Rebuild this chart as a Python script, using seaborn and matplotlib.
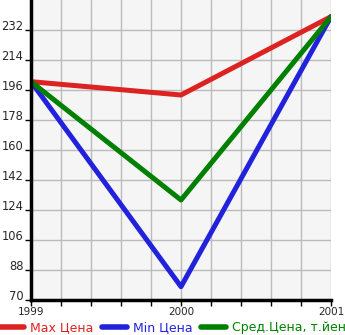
import matplotlib
matplotlib.use("Agg")
import matplotlib.pyplot as plt
import seaborn as sns
import pandas as pd
import numpy as np

years = [1999, 2000, 2001]
max_price = [201, 193, 240]
min_price = [201, 78, 240]
avg_price = [201, 130, 240]
series_names = ["Max Цена", "Min Цена", "Сред.Цена, т.йен"]
colors = ["#dd2222", "#2222dd", "#008000"]
y_ticks = [70, 88, 106, 124, 142, 160, 178, 196, 214, 232]
x_ticks = [1999, 2000, 2001]

sns.set_style("white")
plt.rcParams['font.family'] = ['DejaVu Sans']

rows = []
for name, vals in zip(series_names, [max_price, min_price, avg_price]):
    for x, v in zip(years, vals):
        rows.append({"year": x, "value": v, "series": name})
df = pd.DataFrame(rows)

fig = plt.figure(figsize=(3.45, 3.35), dpi=100)
ax = fig.add_axes([31/345, 35/335, 300/345, 300/335])
ax.set_facecolor("#f5f5f5")

sns.lineplot(data=df, x="year", y="value", hue="series", palette=colors,
             hue_order=series_names, linewidth=3.6, ax=ax, legend=False,
             solid_capstyle="round")

ax.set_xlim(1999, 2001)
ax.set_ylim(70, 250)
ax.set_xticks(np.arange(1999, 2001.01, 0.2), minor=True)
ax.set_xticks(x_ticks)
ax.set_xticklabels([str(x) for x in x_ticks])
ax.set_yticks(y_ticks)
ax.set_yticklabels([str(y) for y in y_ticks])
ax.grid(True, which="major", axis="y", color="#bbbbbb", linewidth=1)
ax.grid(True, which="both", axis="x", color="#bbbbbb", linewidth=1)
ax.set_axisbelow(True)
ax.set_xlabel("")
ax.set_ylabel("")
for s in ["top", "right"]:
    ax.spines[s].set_visible(False)
for s in ["left", "bottom"]:
    ax.spines[s].set_color("black")
    ax.spines[s].set_linewidth(2.5)
ax.tick_params(axis="both", which="both", direction="out", length=4, width=1,
               color="black", labelsize=7.5, left=True, bottom=True)
ax.tick_params(axis="y", pad=1.5, labelsize=8.3)
ax.tick_params(axis="x", pad=1)
for lbl in ax.get_yticklabels():
    lbl.set_verticalalignment("baseline")

from matplotlib.lines import Line2D
handles = [Line2D([0], [0], color=c, linewidth=4, solid_capstyle="round") for c in colors]
leg = fig.legend(handles, series_names, loc="lower center", ncol=3, frameon=False,
                 bbox_to_anchor=(0.5, 0.0), borderaxespad=0.0, borderpad=0.05,
                 fontsize=9, handlelength=2.0,
                 handletextpad=0.45, columnspacing=0.7)
for t, c in zip(leg.get_texts(), colors):
    t.set_color(c)

fig.savefig("out.png", dpi=100)
